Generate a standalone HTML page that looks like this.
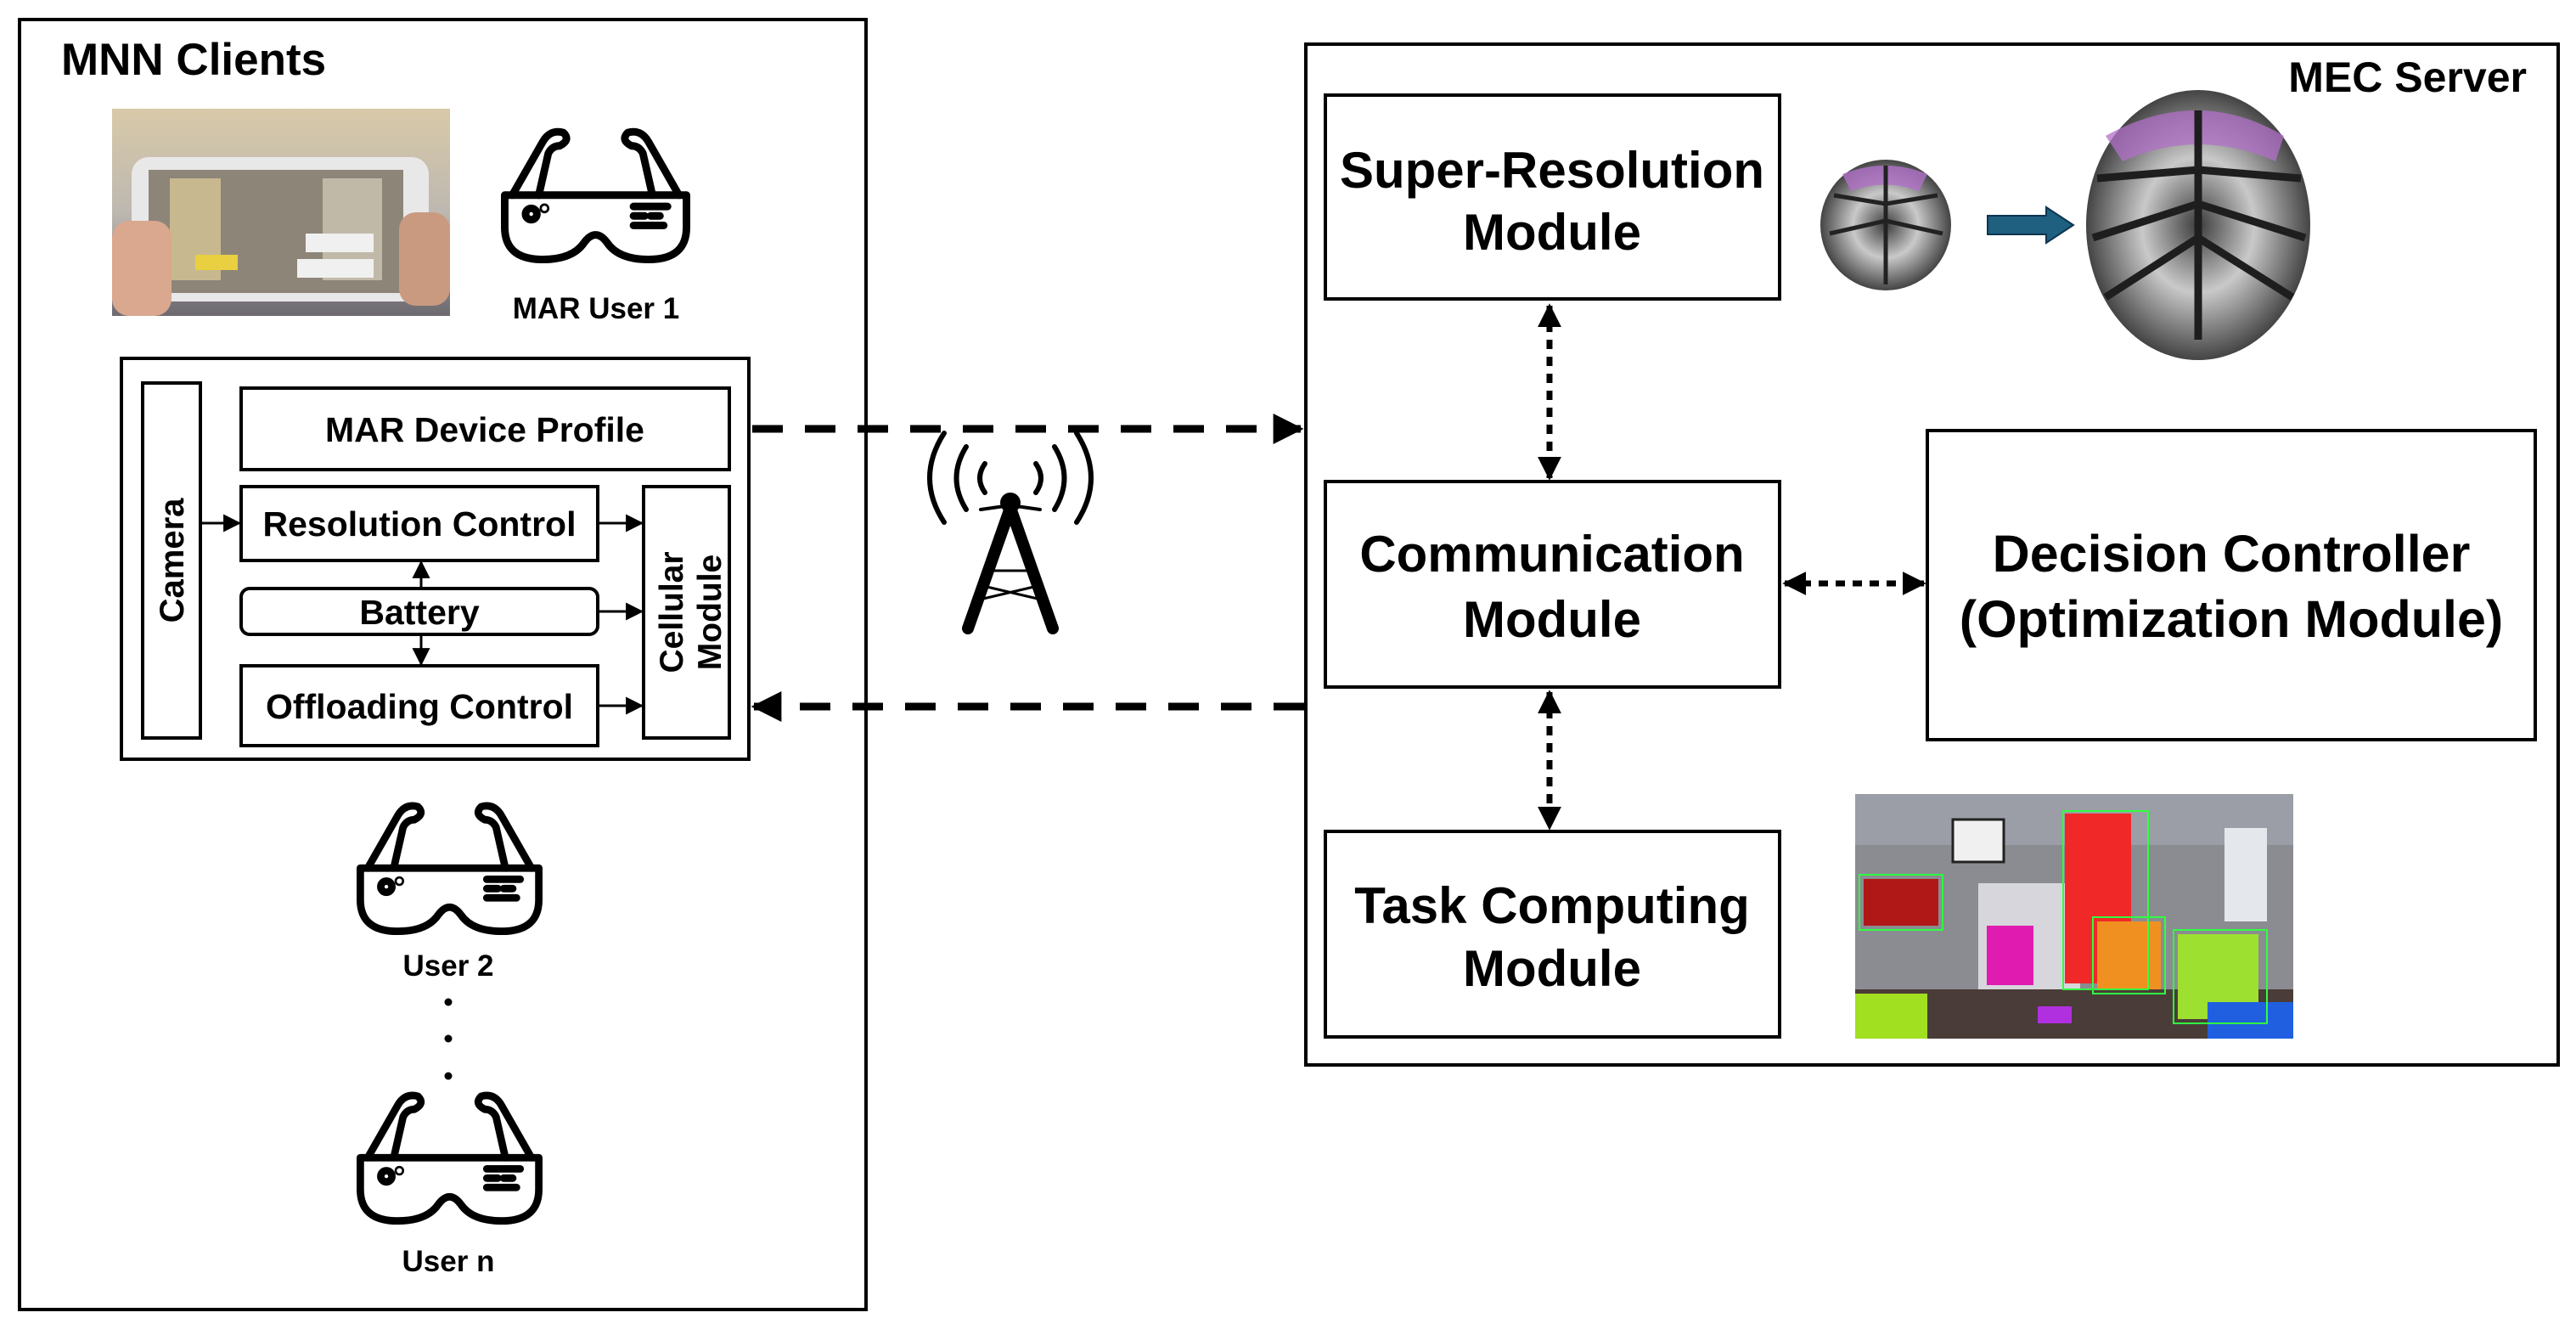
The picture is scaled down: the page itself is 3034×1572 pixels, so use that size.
<!DOCTYPE html>
<html><head><meta charset="utf-8"><style>
html,body{margin:0;padding:0;background:#fff;}
svg{display:block;}
text{font-family:"Liberation Sans","Noto Sans CJK KR",sans-serif;font-weight:bold;fill:#000;}
</style></head><body>
<svg width="3034" height="1572" viewBox="0 0 3034 1572" xmlns="http://www.w3.org/2000/svg">
<defs>
<marker id="ah" viewBox="0 0 10 10" refX="9" refY="5" markerWidth="4" markerHeight="4" orient="auto-start-reverse" markerUnits="strokeWidth"><path d="M0,0 L10,5 L0,10 Z" fill="#000"/></marker>
<marker id="as" viewBox="0 0 10 10" refX="9" refY="5" markerWidth="7" markerHeight="7" orient="auto-start-reverse" markerUnits="strokeWidth"><path d="M0,0 L10,5 L0,10 Z" fill="#000"/></marker>
<g id="glass" fill="none" stroke="#000" stroke-width="4" stroke-linejoin="round" stroke-linecap="round">
<path d="M2,38 L98,38 L98,55 Q98,72 78,72 Q62,72 56,63 Q50,55 44,63 Q38,72 22,72 Q2,72 2,55 Z"/>
<path d="M6,38 L22,10 Q26,3 33,5 Q37,9 31,12 Q27,12 25,16 L20,38"/>
<path d="M94,38 L78,10 Q74,3 67,5 Q63,9 69,12 Q73,12 75,16 L80,38"/>
<circle cx="16" cy="48" r="3"/>
<circle cx="23" cy="45" r="0.6"/>
<path d="M70,44 H88 M70,49 H76 M79,49 H84 M70,54 H86"/>
</g>
<radialGradient id="bf" cx="50%" cy="50%" r="50%">
<stop offset="0" stop-color="#3c3c3c"/><stop offset="0.5" stop-color="#c9c9c9"/><stop offset="1" stop-color="#444"/>
</radialGradient>
<linearGradient id="ph" x1="0" y1="0" x2="0" y2="1"><stop offset="0" stop-color="#d8c9a8"/><stop offset="0.5" stop-color="#bdb8b0"/><stop offset="1" stop-color="#6d6a70"/></linearGradient>
</defs>

<rect x="23" y="23" width="997" height="1519" fill="none" stroke="#000" stroke-width="4"/>
<text x="72" y="88" font-size="53">MNN Clients</text>

<rect x="132" y="128" width="398" height="244" fill="url(#ph)"/>
<rect x="155" y="185" width="350" height="170" rx="20" fill="#e8e8e8"/>
<rect x="175" y="200" width="300" height="145" fill="#8d8578"/>
<rect x="200" y="210" width="60" height="120" fill="#c8b890"/>
<rect x="380" y="210" width="70" height="120" fill="#c0b9a8"/>
<rect x="230" y="300" width="50" height="18" fill="#e8d040"/>
<rect x="360" y="275" width="80" height="22" fill="#f0f0f0"/>
<rect x="350" y="305" width="90" height="22" fill="#f0f0f0"/>
<rect x="132" y="260" width="70" height="112" fill="#d9a88e" rx="20"/>
<rect x="470" y="250" width="60" height="110" fill="#c99a80" rx="20"/>

<use href="#glass" transform="translate(590,145) scale(2.23)"/>
<text x="702" y="375" font-size="35" text-anchor="middle">MAR User 1</text>

<rect x="143" y="422" width="739" height="472" fill="none" stroke="#000" stroke-width="4"/>
<rect x="168" y="451" width="68" height="418" fill="none" stroke="#000" stroke-width="4"/>
<text transform="translate(216,660) rotate(-90)" font-size="40" text-anchor="middle">Camera</text>
<rect x="284" y="457" width="575" height="96" fill="none" stroke="#000" stroke-width="4"/>
<text x="571" y="520" font-size="41" text-anchor="middle">MAR Device Profile</text>
<rect x="284" y="573" width="420" height="87" fill="none" stroke="#000" stroke-width="4"/>
<text x="494" y="631" font-size="41" text-anchor="middle">Resolution Control</text>
<rect x="284" y="693" width="420" height="54" rx="10" fill="none" stroke="#000" stroke-width="4"/>
<text x="494" y="735" font-size="41" text-anchor="middle">Battery</text>
<rect x="284" y="784" width="420" height="94" fill="none" stroke="#000" stroke-width="4"/>
<text x="494" y="846" font-size="41" text-anchor="middle">Offloading Control</text>
<rect x="758" y="573" width="101" height="296" fill="none" stroke="#000" stroke-width="4"/>
<text transform="translate(804,721) rotate(-90)" font-size="39" text-anchor="middle">Cellular</text>
<text transform="translate(849,721) rotate(-90)" font-size="39" text-anchor="middle">Module</text>

<g stroke="#000" stroke-width="3" fill="none" marker-end="url(#as)">
<line x1="236" y1="616" x2="282" y2="616"/>
<line x1="704" y1="616" x2="756" y2="616"/>
<line x1="704" y1="720" x2="756" y2="720"/>
<line x1="704" y1="831" x2="756" y2="831"/>
<line x1="496" y1="693" x2="496" y2="662"/>
<line x1="496" y1="747" x2="496" y2="782"/>
</g>

<line x1="886" y1="505" x2="1532" y2="505" stroke="#000" stroke-width="9" stroke-dasharray="36,26" marker-end="url(#ah)"/>
<line x1="1536" y1="832" x2="888" y2="832" stroke="#000" stroke-width="9" stroke-dasharray="36,26" marker-end="url(#ah)"/>

<g fill="none" stroke="#000" stroke-linecap="round">
<path d="M1155,600 L1190,595 L1225,600" stroke-width="4"/>
<path d="M1190,598 L1140,740 M1190,598 L1240,740" stroke-width="14"/>
<path d="M1165,672 L1215,672 M1158,690 L1222,705 M1222,690 L1158,705" stroke-width="3"/>
<path d="M1160,580 Q1148,563 1160,546" stroke-width="6"/>
<path d="M1220,580 Q1232,563 1220,546" stroke-width="6"/>
<path d="M1138,600 Q1115,563 1138,526" stroke-width="6"/>
<path d="M1242,600 Q1265,563 1242,526" stroke-width="6"/>
<path d="M1112,615 Q1078,563 1112,510" stroke-width="6"/>
<path d="M1268,615 Q1302,563 1268,510" stroke-width="6"/>
</g>
<circle cx="1190" cy="592" r="12" fill="#000"/>

<use href="#glass" transform="translate(420,939) scale(2.19)"/>
<text x="528" y="1149" font-size="35" text-anchor="middle">User 2</text>
<circle cx="528" cy="1180" r="4.5" fill="#000"/>
<circle cx="528" cy="1223" r="4.5" fill="#000"/>
<circle cx="528" cy="1267" r="4.5" fill="#000"/>
<use href="#glass" transform="translate(420,1280) scale(2.19)"/>
<text x="528" y="1497" font-size="35" text-anchor="middle">User n</text>

<rect x="1538" y="52" width="1475" height="1202" fill="none" stroke="#000" stroke-width="4"/>
<text x="2976" y="108" font-size="50" text-anchor="end">MEC Server</text>

<rect x="1561" y="112" width="535" height="240" fill="none" stroke="#000" stroke-width="4"/>
<text x="1828" y="221" font-size="60" text-anchor="middle">Super-Resolution</text>
<text x="1828" y="294" font-size="60" text-anchor="middle">Module</text>

<circle cx="2221" cy="265" r="77" fill="url(#bf)"/>
<path d="M2170,205 Q2221,185 2270,205 L2260,225 Q2221,210 2180,225 Z" fill="#b070c8" opacity="0.8"/>
<g stroke="#222" stroke-width="5"><line x1="2221" y1="195" x2="2221" y2="335"/><line x1="2221" y1="240" x2="2160" y2="230"/><line x1="2221" y1="260" x2="2155" y2="275"/><line x1="2221" y1="240" x2="2282" y2="230"/><line x1="2221" y1="260" x2="2288" y2="275"/></g>
<path d="M2341,254 H2410 V244 L2442,265 L2410,286 V276 H2341 Z" fill="#1f5f80" stroke="#0d3550" stroke-width="2"/>
<ellipse cx="2589" cy="265" rx="132" ry="159" fill="url(#bf)"/>
<path d="M2480,160 Q2589,100 2690,160 L2680,190 Q2589,150 2500,190 Z" fill="#b070c8" opacity="0.75"/>
<g stroke="#1e1e1e" stroke-width="9"><line x1="2589" y1="130" x2="2589" y2="400"/><line x1="2589" y1="200" x2="2470" y2="210"/><line x1="2589" y1="240" x2="2465" y2="280"/><line x1="2589" y1="280" x2="2480" y2="350"/><line x1="2589" y1="200" x2="2710" y2="210"/><line x1="2589" y1="240" x2="2715" y2="280"/><line x1="2589" y1="280" x2="2700" y2="350"/></g>

<rect x="1561" y="567" width="535" height="242" fill="none" stroke="#000" stroke-width="4"/>
<text x="1828" y="673" font-size="60" text-anchor="middle">Communication</text>
<text x="1828" y="750" font-size="60" text-anchor="middle">Module</text>

<rect x="2270" y="507" width="716" height="364" fill="none" stroke="#000" stroke-width="4"/>
<text x="2628" y="673" font-size="61" text-anchor="middle">Decision Controller</text>
<text x="2628" y="750" font-size="61" text-anchor="middle">(Optimization Module)</text>

<rect x="1561" y="979" width="535" height="242" fill="none" stroke="#000" stroke-width="4"/>
<text x="1828" y="1087" font-size="60" text-anchor="middle">Task Computing</text>
<text x="1828" y="1161" font-size="60" text-anchor="middle">Module</text>

<g stroke="#000" stroke-width="7" stroke-dasharray="11,9" fill="none" marker-start="url(#ah)" marker-end="url(#ah)">
<line x1="1825" y1="360" x2="1825" y2="563"/>
<line x1="1825" y1="815" x2="1825" y2="975"/>
<line x1="2102" y1="687" x2="2266" y2="687"/>
</g>

<g>
<rect x="2185" y="935" width="516" height="288" fill="#8a8c92"/>
<rect x="2185" y="935" width="516" height="60" fill="#9b9ea6"/>
<rect x="2330" y="1040" width="120" height="150" fill="#d6d6dc"/>
<rect x="2300" y="965" width="60" height="50" fill="#f0f0f0" stroke="#222" stroke-width="3"/>
<rect x="2620" y="975" width="50" height="110" fill="#e4e8ec"/>
<rect x="2185" y="1165" width="516" height="58" fill="#4a3c38"/>
<rect x="2195" y="1035" width="88" height="55" fill="#b01818"/>
<rect x="2340" y="1090" width="55" height="70" fill="#e01cb0"/>
<rect x="2432" y="958" width="78" height="200" fill="#f02828"/>
<rect x="2470" y="1085" width="75" height="80" fill="#f09020"/>
<rect x="2565" y="1100" width="95" height="100" fill="#9ee030"/>
<rect x="2600" y="1180" width="101" height="43" fill="#2060e0"/>
<rect x="2185" y="1170" width="85" height="53" fill="#a0e020"/>
<rect x="2400" y="1185" width="40" height="20" fill="#b030e0"/>
<g fill="none" stroke="#30ff40" stroke-width="2">
<rect x="2190" y="1030" width="98" height="65"/><rect x="2430" y="955" width="100" height="210"/><rect x="2560" y="1095" width="110" height="110"/><rect x="2465" y="1080" width="85" height="90"/>
</g>
</g>
</svg>
</body></html>
